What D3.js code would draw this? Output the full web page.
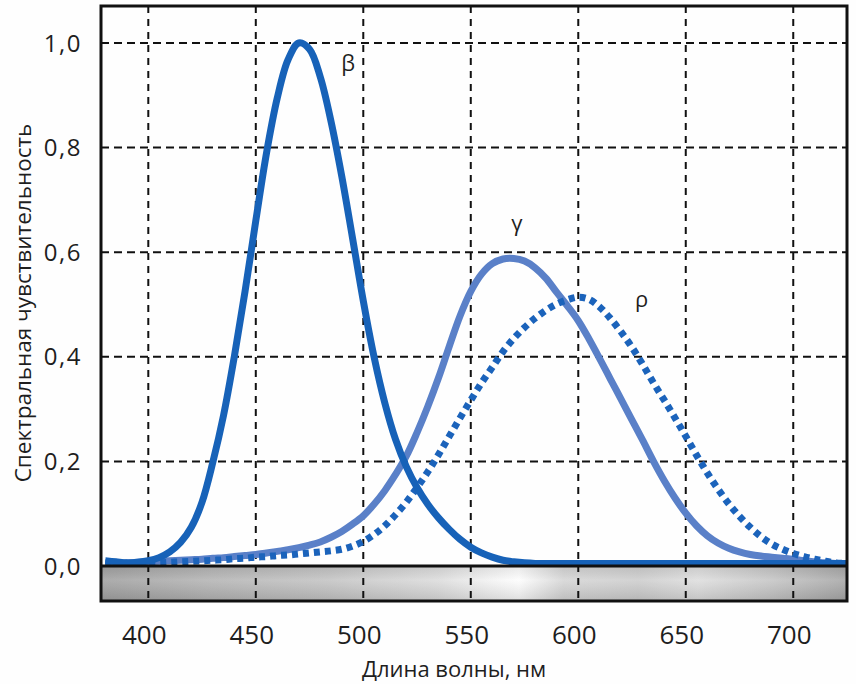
<!DOCTYPE html>
<html><head><meta charset="utf-8">
<script src="https://cdn.jsdelivr.net/npm/d3@7"></script>
<style>
html,body{margin:0;padding:0;background:#fefefe;}
svg{display:block;}
text{font-family:"Open Sans","Noto Sans",sans-serif;fill:#1e1e1e;}
</style></head>
<body>
<svg id="chart" width="856" height="684"></svg>
<script>
// Wavelengths (nm)
const wavelengths = [380,385,390,395,400,405,410,415,420,425,430,435,440,445,450,455,460,465,470,475,480,485,490,495,500,505,510,515,520,525,530,535,540,545,550,555,560,565,570,575,580,585,590,595,600,605,610,615,620,625,630,635,640,645,650,655,660,665,670,675,680,685,690,695,700,705,710,715,720,725];
// β (short-wave)
const betaValues = [0.010,0.008,0.006,0.007,0.010,0.016,0.027,0.045,0.074,0.122,0.198,0.288,0.400,0.525,0.660,0.790,0.895,0.968,1.000,0.988,0.935,0.850,0.745,0.627,0.507,0.400,0.312,0.242,0.190,0.150,0.118,0.092,0.070,0.051,0.036,0.025,0.017,0.011,0.008,0.006,0.005,0.005,0.005,0.005,0.005,0.005,0.005,0.005,0.005,0.005,0.005,0.005,0.005,0.005,0.005,0.005,0.005,0.005,0.005,0.005,0.005,0.005,0.005,0.005,0.005,0.005,0.005,0.005,0.005,0.005];
// γ (middle-wave)
const gammaValues = [0.006,0.006,0.006,0.007,0.008,0.009,0.010,0.011,0.012,0.013,0.015,0.016,0.018,0.020,0.022,0.025,0.028,0.031,0.035,0.040,0.046,0.055,0.066,0.080,0.096,0.118,0.144,0.175,0.210,0.255,0.305,0.360,0.420,0.478,0.525,0.558,0.578,0.587,0.588,0.583,0.570,0.550,0.523,0.497,0.469,0.434,0.396,0.357,0.318,0.279,0.240,0.200,0.163,0.130,0.101,0.077,0.058,0.044,0.034,0.027,0.022,0.019,0.017,0.015,0.013,0.010,0.008,0.006,0.005,0.004];
// ρ (long-wave)
const rhoValues = [0.004,0.004,0.005,0.005,0.006,0.006,0.007,0.008,0.009,0.010,0.011,0.012,0.014,0.015,0.017,0.018,0.020,0.021,0.023,0.025,0.027,0.029,0.032,0.038,0.047,0.060,0.077,0.098,0.122,0.150,0.180,0.213,0.248,0.283,0.317,0.350,0.380,0.410,0.435,0.456,0.474,0.489,0.501,0.509,0.514,0.510,0.495,0.473,0.447,0.418,0.385,0.350,0.317,0.283,0.248,0.212,0.178,0.147,0.119,0.095,0.074,0.056,0.042,0.032,0.024,0.018,0.013,0.009,0.006,0.005];

const xTicks = [400,450,500,550,600,650,700];
const yTicks = [0.0,0.2,0.4,0.6,0.8,1.0];
const yTickLabels = ["0,0","0,2","0,4","0,6","0,8","1,0"];
const curveLabels = [{t:"β",x:493,y:0.962},{t:"γ",x:571.5,y:0.656},{t:"ρ",x:629.5,y:0.51}];
const xTitle = "Длина волны, нм";
const yTitle = "Спектральная чувствительность";

const svg = d3.select("#chart");
const L=101, R=847, T=6, B=601, Y0=566;
const x = d3.scaleLinear().domain([378,725]).range([L,R]);
const y = d3.scaleLinear().domain([0,1]).range([Y0,43]);

// grey band gradient
const defs = svg.append("defs");
const g1 = defs.append("linearGradient").attr("id","band").attr("x1","0").attr("x2","1").attr("y1","0").attr("y2","0");
[[0,"#a2a2a2"],[0.15,"#b6b6b6"],[0.3,"#c4c4c4"],[0.45,"#dcdcdc"],[0.52,"#f2f2f2"],[0.56,"#fdfdfd"],[0.62,"#d6d6d6"],[0.72,"#cecece"],[0.8,"#dedede"],[0.9,"#c6c6c6"],[1,"#a8a8a8"]]
 .forEach(s=>g1.append("stop").attr("offset",s[0]).attr("stop-color",s[1]));
const g2 = defs.append("linearGradient").attr("id","shade").attr("x1","0").attr("x2","0").attr("y1","0").attr("y2","1");
[[0,"rgba(0,0,0,0.08)"],[0.4,"rgba(255,255,255,0.1)"],[1,"rgba(0,0,0,0.12)"]].forEach(s=>g2.append("stop").attr("offset",s[0]).attr("stop-color",s[1]));
svg.append("rect").attr("x",L).attr("y",Y0).attr("width",R-L).attr("height",B-Y0).attr("fill","url(#band)");
svg.append("rect").attr("x",L).attr("y",Y0).attr("width",R-L).attr("height",B-Y0).attr("fill","url(#shade)");

// grid
svg.append("g").selectAll("line").data(xTicks).join("line")
  .attr("x1",d=>x(d)).attr("x2",d=>x(d)).attr("y1",T).attr("y2",B)
  .attr("stroke","#111").attr("stroke-width",2).attr("stroke-dasharray","7,6");
svg.append("g").selectAll("line").data(yTicks.filter(d=>d>0)).join("line")
  .attr("x1",L).attr("x2",R).attr("y1",d=>y(d)).attr("y2",d=>y(d))
  .attr("stroke","#111").attr("stroke-width",2).attr("stroke-dasharray","8,5");

// curves
defs.append("clipPath").attr("id","clip").append("rect").attr("x",L).attr("y",T).attr("width",R-L).attr("height",Y0-T);
const line = d3.line().x((d,i)=>x(wavelengths[i])).y(d=>y(d)).curve(d3.curveCatmullRom);
const cg = svg.append("g").attr("clip-path","url(#clip)");
cg.append("path").attr("d",line(gammaValues)).attr("fill","none").attr("stroke","#5a80c8").attr("stroke-width",7).attr("stroke-linejoin","round");
cg.append("path").attr("d",line(rhoValues)).attr("fill","none").attr("stroke","#1b63bb").attr("stroke-width",7).attr("stroke-dasharray","6,5");
cg.append("path").attr("d",line(betaValues)).attr("fill","none").attr("stroke","#1762b8").attr("stroke-width",7).attr("stroke-linejoin","round");

// zero line and frame
svg.append("line").attr("x1",L).attr("x2",R).attr("y1",Y0).attr("y2",Y0).attr("stroke","#111").attr("stroke-width",3);
svg.append("rect").attr("x",L).attr("y",T).attr("width",R-L).attr("height",B-T).attr("fill","none").attr("stroke","#111").attr("stroke-width",3);

// tick labels
svg.append("g").selectAll("text").data(yTicks).join("text")
  .attr("x",82).attr("y",d=>y(d)).attr("dy","0.36em").attr("text-anchor","end")
  .attr("font-size",24).attr("letter-spacing",1.5).text((d,i)=>yTickLabels[i]);
svg.append("g").selectAll("text").data(xTicks).join("text")
  .attr("x",d=>x(d)-4).attr("y",644).attr("text-anchor","middle")
  .attr("font-size",26).text(d=>d);

// curve labels
svg.append("g").selectAll("text").data(curveLabels).join("text")
  .attr("x",d=>x(d.x)).attr("y",d=>y(d.y)).attr("dy","0.35em").attr("text-anchor","middle")
  .attr("font-size",22).text(d=>d.t);

// titles
svg.append("text").attr("x",454).attr("y",677).attr("text-anchor","middle").attr("font-size",22).text(xTitle);
svg.append("text").attr("transform","translate(31,303) rotate(-90)").attr("text-anchor","middle").attr("font-size",22.5).text(yTitle);
</script>
</body></html>
